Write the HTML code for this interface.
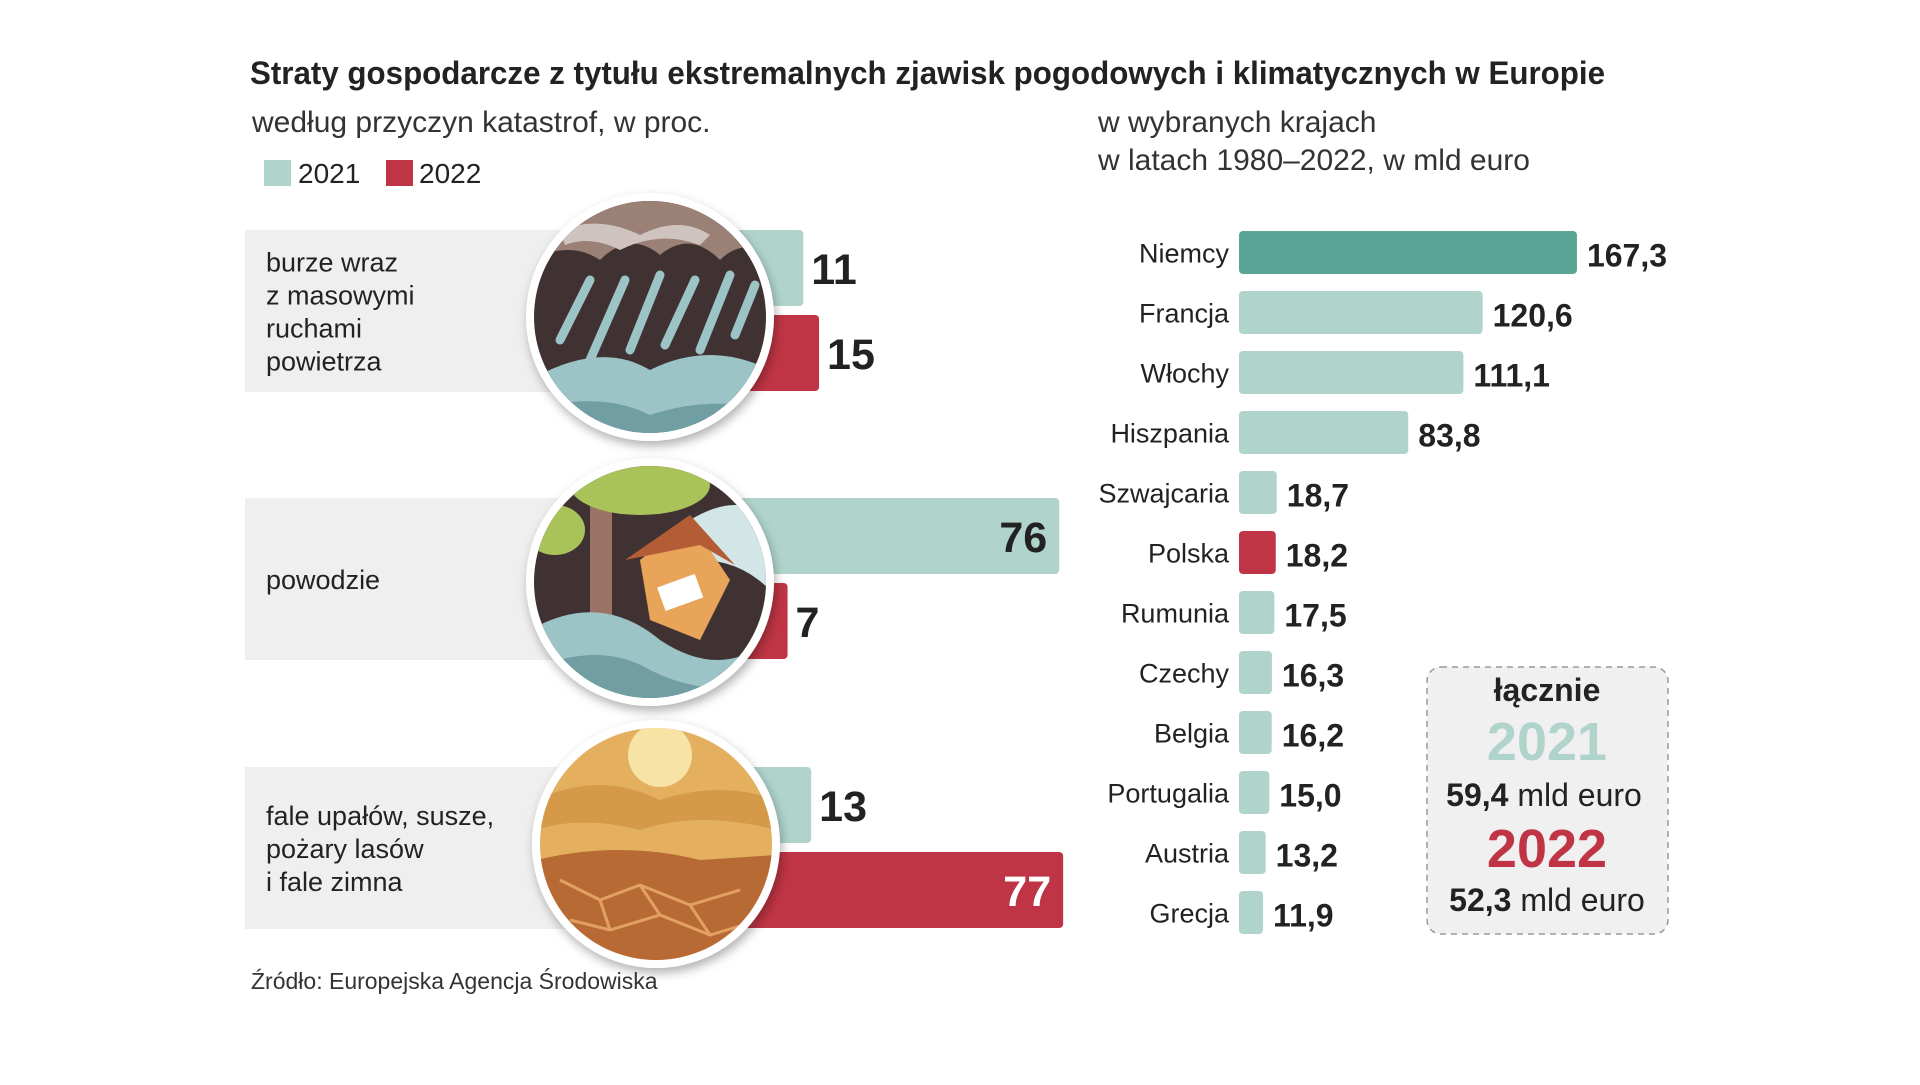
<!DOCTYPE html>
<html><head><meta charset="utf-8">
<style>
body{margin:0;width:1920px;height:1080px;background:#fff;overflow:hidden;font-family:"Liberation Sans",sans-serif;}
svg text{font-family:"Liberation Sans",sans-serif;}
</style></head>
<body>
<svg id="chart" width="1920" height="1080" viewBox="0 0 1920 1080" xmlns="http://www.w3.org/2000/svg">
<defs>
<clipPath id="c1"><circle cx="650" cy="317" r="116"/></clipPath>
<clipPath id="c2"><circle cx="650" cy="582" r="116"/></clipPath>
<clipPath id="c3"><circle cx="656" cy="844" r="116"/></clipPath>
<filter id="sh" x="-20%" y="-20%" width="140%" height="140%"><feDropShadow dx="2" dy="5" stdDeviation="5" flood-opacity="0.3"/></filter>
</defs>
<text x="250" y="84" font-size="32" font-weight="bold" fill="#222" textLength="1355" lengthAdjust="spacingAndGlyphs">Straty gospodarcze z tytułu ekstremalnych zjawisk pogodowych i klimatycznych w Europie</text>
<text x="252" y="132" font-size="30" fill="#333">według przyczyn katastrof, w proc.</text>
<rect x="264" y="160" width="27" height="26" fill="#b0d4cc"/>
<text x="298" y="183" font-size="28" fill="#222">2021</text>
<rect x="386" y="160" width="27" height="26" fill="#c03545"/>
<text x="419" y="183" font-size="28" fill="#222">2022</text>
<text x="1098" y="132" font-size="30" fill="#333">w wybranych krajach</text>
<text x="1098" y="170" font-size="30" fill="#333">w latach 1980–2022, w mld euro</text>
<g id="left"></g>
<g id="icons">
<g filter="url(#sh)">
<circle cx="650" cy="317" r="124" fill="#fff"/>
<g clip-path="url(#c1)">
<rect x="530" y="200" width="240" height="240" fill="#3f3332"/>
<path d="M530 380 Q600 340 650 370 Q710 340 770 370 L770 440 L530 440Z" fill="#9cc4c6"/>
<path d="M530 410 Q600 390 650 415 Q710 395 770 410 L770 440 L530 440Z" fill="#6f9ea2"/>
<path d="M530 200 L770 200 L770 250 Q740 240 720 260 Q690 230 660 255 Q630 230 600 260 Q570 240 530 260Z" fill="#9b8076"/>
<path d="M560 230 Q600 215 640 235 Q680 215 710 235 L700 245 Q660 230 620 250 Q590 235 565 245Z" fill="#cfc3c0"/>
<g stroke="#9cc4c6" stroke-width="9" stroke-linecap="round"><line x1="560" y1="340" x2="590" y2="280"/><line x1="590" y1="360" x2="625" y2="280"/><line x1="630" y1="350" x2="660" y2="275"/><line x1="665" y1="345" x2="695" y2="280"/><line x1="700" y1="350" x2="730" y2="275"/><line x1="735" y1="335" x2="755" y2="285"/></g>
</g></g>
<g filter="url(#sh)">
<circle cx="650" cy="582" r="124" fill="#fff"/>
<g clip-path="url(#c2)">
<rect x="530" y="460" width="240" height="240" fill="#3f3332"/>
<rect x="590" y="490" width="22" height="150" fill="#9b7366"/>
<ellipse cx="640" cy="485" rx="70" ry="30" fill="#a9c25a"/>
<ellipse cx="555" cy="530" rx="30" ry="25" fill="#a9c25a"/>
<path d="M690 520 Q740 490 770 520 L770 590 Q740 560 700 560Z" fill="#d2e6e8"/>
<path d="M640 560 L690 520 L730 580 L700 640 L650 620Z" fill="#e8a55a"/>
<path d="M625 560 L690 515 L735 565 L700 545Z" fill="#b45b35"/>
<rect x="660" y="580" width="40" height="25" fill="#fff" transform="rotate(-20 680 592)"/>
<path d="M530 630 Q600 590 660 640 Q720 680 770 640 L770 700 L530 700Z" fill="#9cc4c6"/>
<path d="M530 670 Q600 640 650 670 Q710 700 770 680 L770 700 L530 700Z" fill="#6f9ea2"/>
</g></g>
<g filter="url(#sh)">
<circle cx="656" cy="844" r="124" fill="#fff"/>
<g clip-path="url(#c3)">
<rect x="536" y="720" width="240" height="240" fill="#e4b061"/>
<circle cx="660" cy="755" r="32" fill="#f6e3a5"/>
<path d="M536 800 Q600 770 660 800 Q720 780 776 800 L776 830 Q700 810 640 830 Q580 815 536 830Z" fill="#d49a48"/>
<path d="M536 860 Q620 840 700 860 L776 855 L776 960 L536 960Z" fill="#b86a35"/>
<g stroke="#e2a163" stroke-width="3" fill="none"><path d="M560 880 L600 900 L640 885 L690 905 L740 890"/><path d="M570 920 L610 930 L660 915 L710 935 L760 920"/><path d="M600 900 L610 930"/><path d="M690 905 L710 935"/><path d="M640 885 L660 915"/></g>
</g></g>
</g>
<g id="right"></g>
<g>
<rect x="1427" y="667" width="241" height="267" rx="14" fill="#f0f0f0" stroke="#999" stroke-width="1.5" stroke-dasharray="6 5"/>
<text x="1547" y="701" font-size="32" font-weight="bold" text-anchor="middle" fill="#222">łącznie</text>
<text x="1547" y="760" font-size="54" font-weight="bold" text-anchor="middle" fill="#b0d4cc">2021</text>
<text x="1544" y="806" font-size="32" text-anchor="middle" fill="#222"><tspan font-weight="bold">59,4</tspan> mld euro</text>
<text x="1547" y="867" font-size="54" font-weight="bold" text-anchor="middle" fill="#c03545">2022</text>
<text x="1547" y="911" font-size="32" text-anchor="middle" fill="#222"><tspan font-weight="bold">52,3</tspan> mld euro</text>
</g>
<text x="251" y="989" font-size="23" fill="#333">Źródło: Europejska Agencja Środowiska</text>
</svg>
<script>
const causes=[["burze wraz","z masowymi","ruchami","powietrza"],["powodzie"],["fale upałów, susze,","pożary lasów","i fale zimna"]];
const v2021=[11,76,13];
const v2022=[15,7,77];
const countries=["Niemcy","Francja","Włochy","Hiszpania","Szwajcaria","Polska","Rumunia","Czechy","Belgia","Portugalia","Austria","Grecja"];
const losses=[167.3,120.6,111.1,83.8,18.7,18.2,17.5,16.3,16.2,15.0,13.2,11.9];
const NS="http://www.w3.org/2000/svg";
function mk(t,a,p){const e=document.createElementNS(NS,t);for(const k in a)e.setAttribute(k,a[k]);p.appendChild(e);return e;}
const xL=v=>760+v*3.937;
const rowTop=[230,498,767];
const L=document.getElementById('left');
causes.forEach((lines,i)=>{
  const t=rowTop[i];
  const band=mk('rect',{x:245,y:t,width:340,height:162,fill:'#efefef'},L);
  
  
  const startY=t+81-(lines.length-1)*16.5+10;
  lines.forEach((ln,j)=>{
    const tx=mk('text',{x:266,y:startY+j*33,'font-size':27,fill:'#222'},L);tx.textContent=ln;
    
    
  });
  [[v2021[i],'#b0d4cc',t],[v2022[i],'#c03545',t+85]].forEach(([v,c,y])=>{
    const r=mk('rect',{x:700,y:y,width:xL(v)-700,height:76,rx:4,fill:c},L);
    
    
    const inside=v>40;
    const tx=mk('text',{x:inside?xL(v)-12:xL(v)+8,y:y+54,'font-size':43,'font-weight':'bold','text-anchor':inside?'end':'start',fill:(inside&&c==='#c03545')?'#fff':'#222'},L);
    tx.textContent=v;
    
    
  });
});
const R=document.getElementById('right');
const xR=v=>1239+v*2.02;
countries.forEach((c,i)=>{
  const cy=252.5+i*60;
  const lb=mk('text',{x:1229,y:cy+10,'font-size':27,'text-anchor':'end',fill:'#222'},R);lb.textContent=c;
  
  
  const col=i===0?'#5ba596':(c==='Polska'?'#c03545':'#b0d4cc');
  const b=mk('rect',{x:1239,y:cy-21.5,width:xR(losses[i])-1239,height:43,rx:4,fill:col},R);
  
  
  const v=mk('text',{x:xR(losses[i])+10,y:cy+14,'font-size':32,'font-weight':'bold',fill:'#222'},R);
  v.textContent=losses[i].toFixed(1).replace('.',',');
  
  
});
</script>
</body></html>
